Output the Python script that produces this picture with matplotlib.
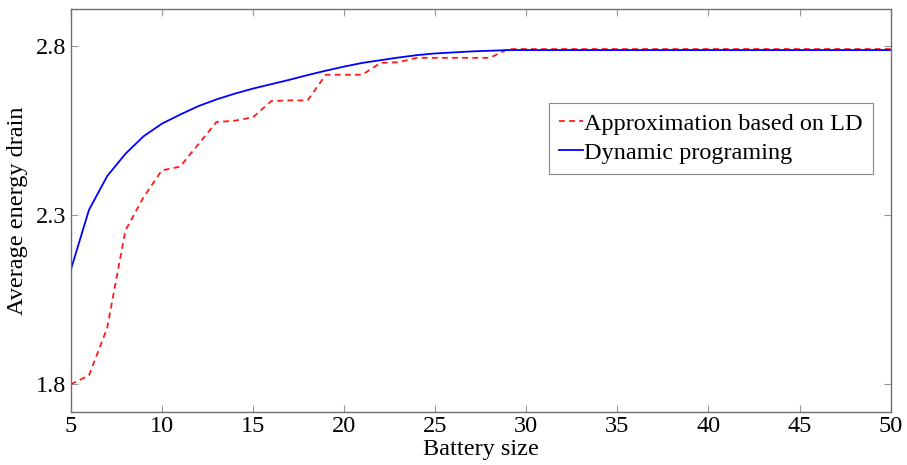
import numpy as np
from matplotlib import pyplot as plt

# Tamanho da bateria e dreno medio de energia
battery = np.arange(5, 51)

# Aproximacao baseada em LD (5..29, depois constante)
ld_head = [1.800, 1.826, 1.967, 2.255, 2.354, 2.433, 2.444, 2.510, 2.576, 2.580,
           2.590, 2.638, 2.640, 2.640, 2.716, 2.716, 2.716, 2.751, 2.753, 2.766,
           2.766, 2.766, 2.766, 2.766, 2.792]
# Programacao dinamica (5..29, depois constante)
dp_head = [2.138, 2.316, 2.416, 2.482, 2.534, 2.571, 2.598, 2.623, 2.643, 2.660,
           2.675, 2.688, 2.701, 2.715, 2.728, 2.740, 2.751, 2.759, 2.767, 2.774,
           2.779, 2.782, 2.785, 2.787, 2.789]
ld_tail = 2.792
dp_tail = 2.789

approx_ld = np.array(ld_head + [ld_tail] * (len(battery) - len(ld_head)))
dyn_prog = np.array(dp_head + [dp_tail] * (len(battery) - len(dp_head)))

xticks = np.arange(5, 51, 5)
yticks = [1.8, 2.3, 2.8]

plt.rcParams['font.family'] = ['Liberation Serif', 'DejaVu Serif']
plt.rcParams['font.size'] = 17

fig = plt.figure(figsize=(9.07, 4.65), dpi=100)
ax = fig.add_axes([0.078, 0.114, 0.904, 0.867])

ax.plot(battery, approx_ld, color='#ff1a1a', lw=1.3, dashes=(3.2, 2.4),
        label='Approximation based on LD')
ax.plot(battery, dyn_prog, color='#0000ff', lw=1.3, label='Dynamic programing')

ax.set_xlim(5, 50)
ax.set_ylim(1.718, 2.911)
ax.set_xticks(xticks)
ax.set_yticks(yticks)
ax.tick_params(direction='in', top=True, right=True, length=5, width=0.8,
               color='#999999', labelsize=17.5, pad=3)
for s in ax.spines.values():
    s.set_color('#707070')
    s.set_linewidth(1.0)

ax.set_xlabel('Battery size', fontsize=17.5, labelpad=1)
ax.set_ylabel('Average energy drain', fontsize=17.5, labelpad=6)

leg = ax.legend(loc='upper right', bbox_to_anchor=(0.978, 0.767), fontsize=17.5,
                fancybox=False, framealpha=1, edgecolor='#888888',
                handlelength=1.0, handletextpad=0.05, borderpad=0.4,
                labelspacing=0.3, borderaxespad=0)
leg.get_frame().set_linewidth(0.8)

fig.savefig('out.png', dpi=100)
